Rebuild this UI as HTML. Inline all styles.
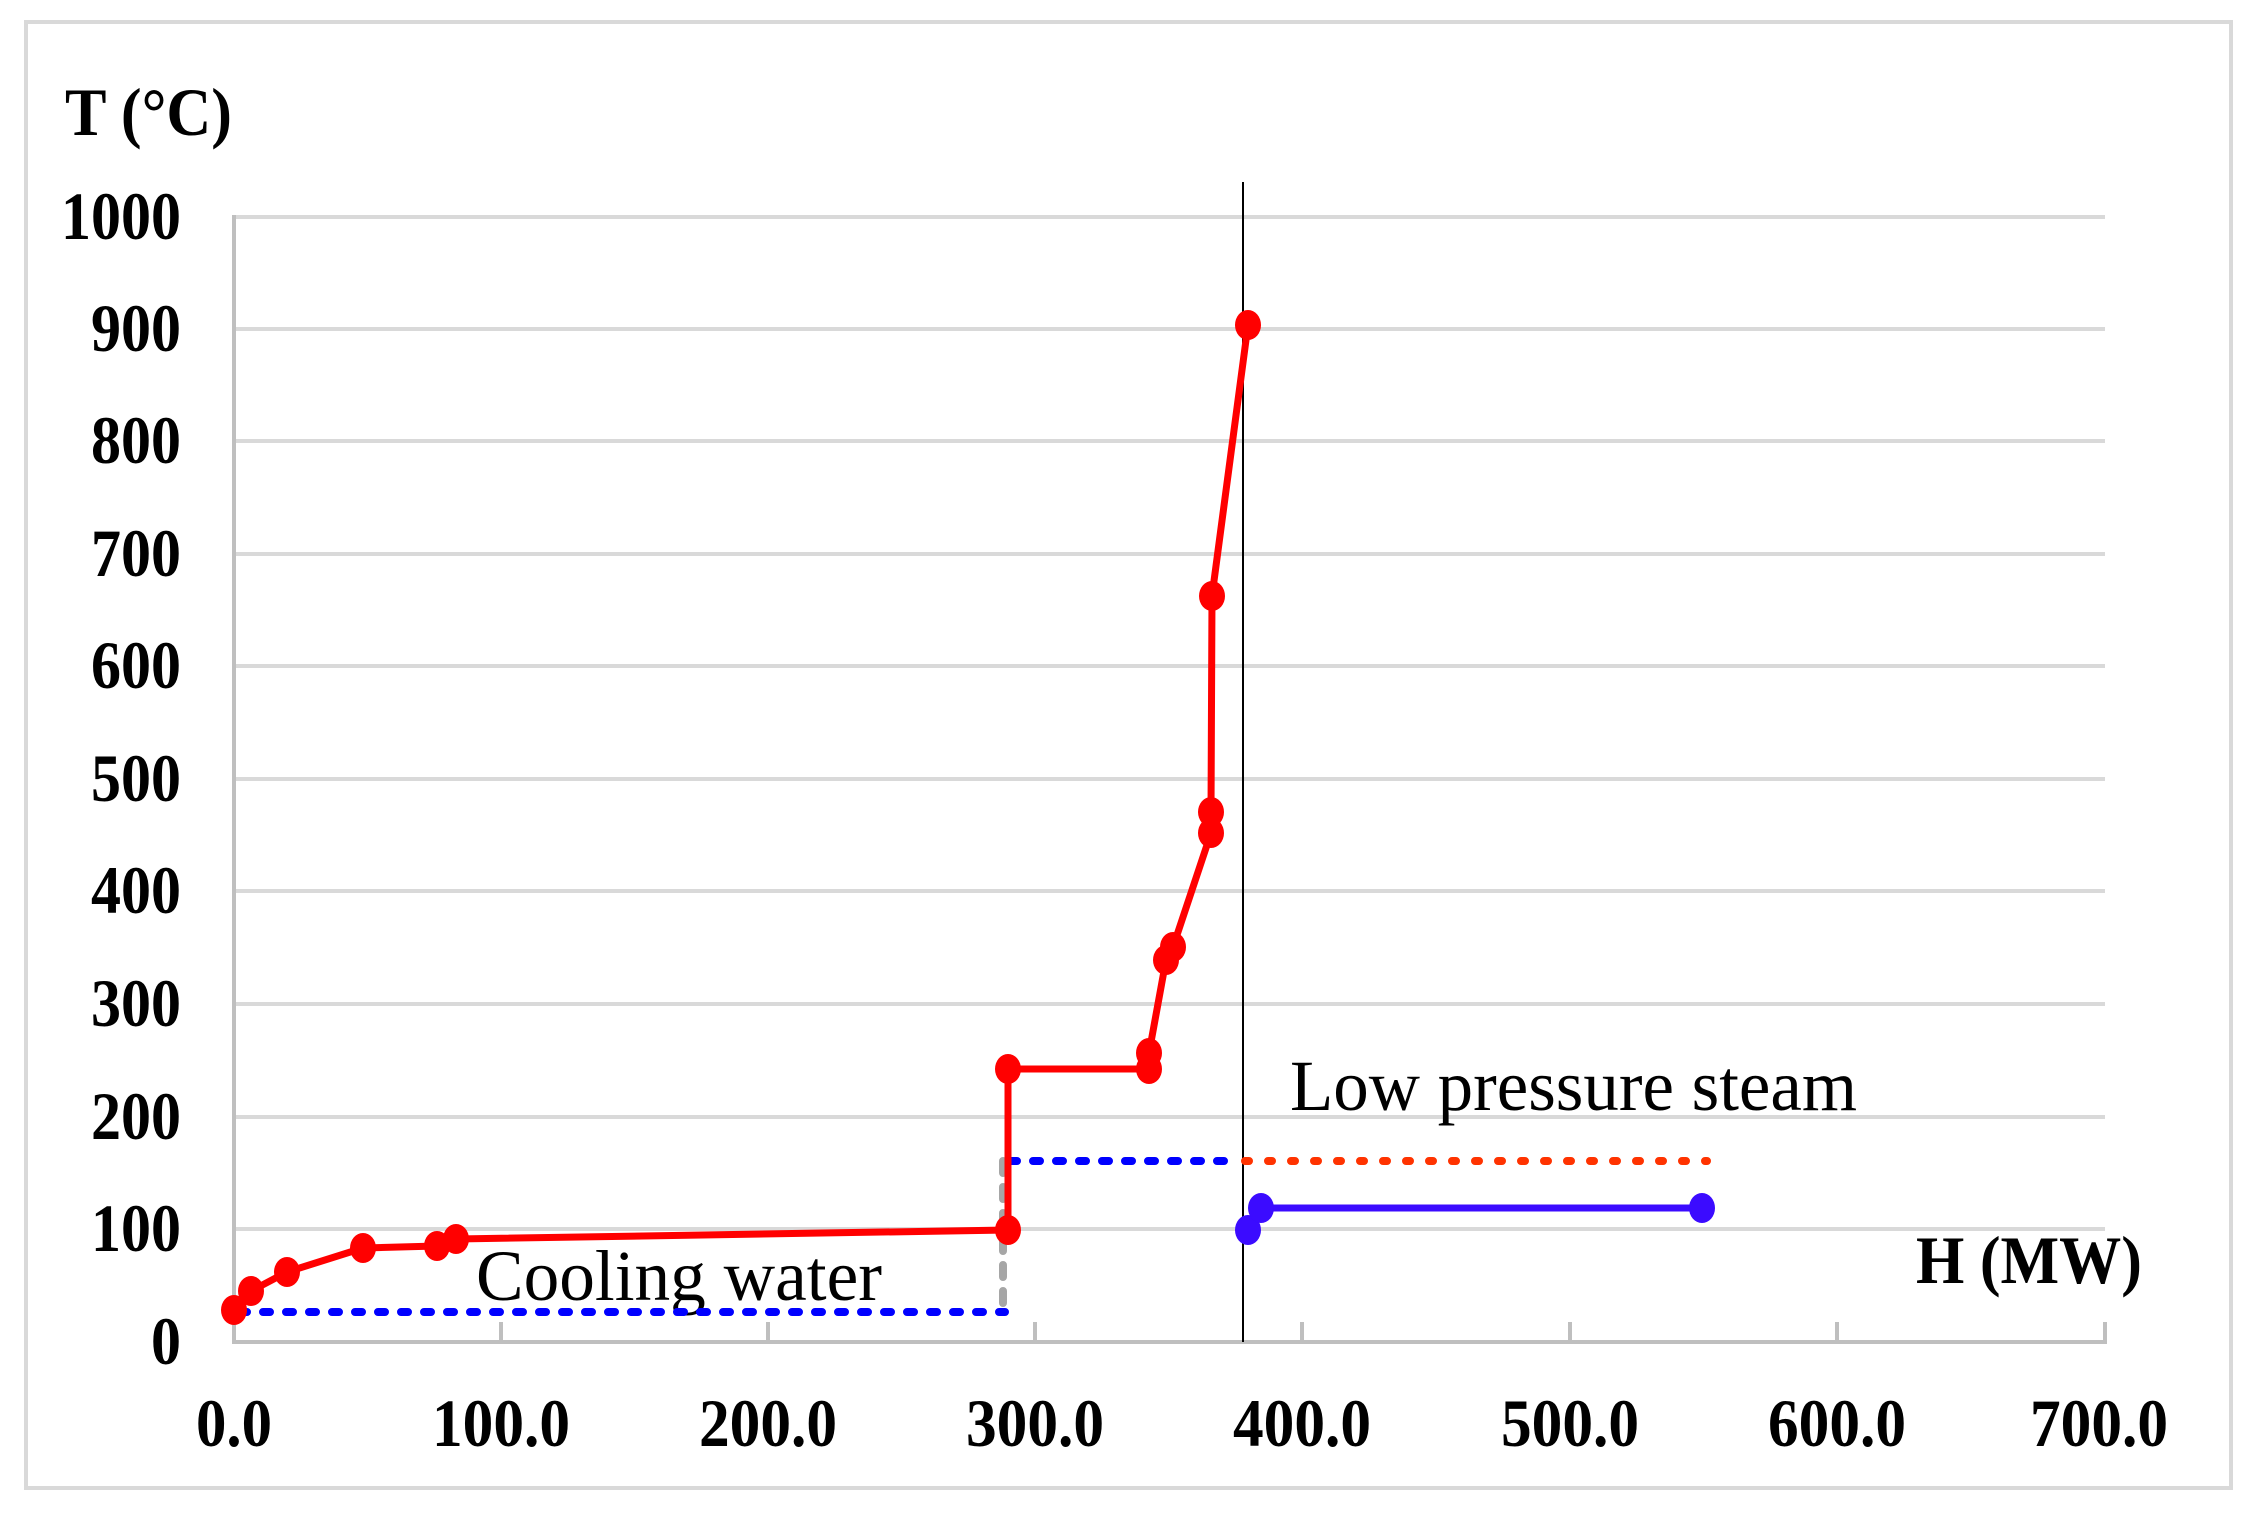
<!DOCTYPE html>
<html><head><meta charset="utf-8"><style>
html,body{margin:0;padding:0;background:#fff;}
svg{display:block;}
text{font-family:"Liberation Serif",serif;fill:#000;}
</style></head><body>
<svg width="2250" height="1514" viewBox="0 0 2250 1514" xmlns="http://www.w3.org/2000/svg">
<rect x="0" y="0" width="2250" height="1514" fill="#fff"/>
<rect x="26" y="22" width="2205" height="1466" fill="none" stroke="#d9d9d9" stroke-width="4"/>
<g stroke="#d9d9d9" stroke-width="4">
<line x1="234" y1="217" x2="2105" y2="217"/>
<line x1="234" y1="329" x2="2105" y2="329"/>
<line x1="234" y1="441" x2="2105" y2="441"/>
<line x1="234" y1="554" x2="2105" y2="554"/>
<line x1="234" y1="666" x2="2105" y2="666"/>
<line x1="234" y1="779" x2="2105" y2="779"/>
<line x1="234" y1="891" x2="2105" y2="891"/>
<line x1="234" y1="1004" x2="2105" y2="1004"/>
<line x1="234" y1="1117" x2="2105" y2="1117"/>
<line x1="234" y1="1229" x2="2105" y2="1229"/>
</g>
<g stroke="#bfbfbf" stroke-width="4">
<line x1="234" y1="215" x2="234" y2="1344"/>
<line x1="232" y1="1342" x2="2107" y2="1342"/>
<line x1="501" y1="1322" x2="501" y2="1342"/>
<line x1="768" y1="1322" x2="768" y2="1342"/>
<line x1="1035" y1="1322" x2="1035" y2="1342"/>
<line x1="1302" y1="1322" x2="1302" y2="1342"/>
<line x1="1570" y1="1322" x2="1570" y2="1342"/>
<line x1="1837" y1="1322" x2="1837" y2="1342"/>
<line x1="2105" y1="1322" x2="2105" y2="1342"/>
</g>
<g font-size="68" font-weight="bold" text-anchor="end" lengthAdjust="spacingAndGlyphs">
<text x="181" y="239" textLength="120" lengthAdjust="spacingAndGlyphs">1000</text>
<text x="181" y="351" textLength="90" lengthAdjust="spacingAndGlyphs">900</text>
<text x="181" y="463" textLength="90" lengthAdjust="spacingAndGlyphs">800</text>
<text x="181" y="576" textLength="90" lengthAdjust="spacingAndGlyphs">700</text>
<text x="181" y="688" textLength="90" lengthAdjust="spacingAndGlyphs">600</text>
<text x="181" y="801" textLength="90" lengthAdjust="spacingAndGlyphs">500</text>
<text x="181" y="913" textLength="90" lengthAdjust="spacingAndGlyphs">400</text>
<text x="181" y="1026" textLength="90" lengthAdjust="spacingAndGlyphs">300</text>
<text x="181" y="1139" textLength="90" lengthAdjust="spacingAndGlyphs">200</text>
<text x="181" y="1251" textLength="90" lengthAdjust="spacingAndGlyphs">100</text>
<text x="181" y="1364" textLength="30" lengthAdjust="spacingAndGlyphs">0</text>
</g>
<g font-size="68" font-weight="bold" text-anchor="middle">
<text x="234" y="1446" textLength="76" lengthAdjust="spacingAndGlyphs">0.0</text>
<text x="501" y="1446" textLength="138" lengthAdjust="spacingAndGlyphs">100.0</text>
<text x="768" y="1446" textLength="138" lengthAdjust="spacingAndGlyphs">200.0</text>
<text x="1035" y="1446" textLength="138" lengthAdjust="spacingAndGlyphs">300.0</text>
<text x="1302" y="1446" textLength="138" lengthAdjust="spacingAndGlyphs">400.0</text>
<text x="1570" y="1446" textLength="138" lengthAdjust="spacingAndGlyphs">500.0</text>
<text x="1837" y="1446" textLength="138" lengthAdjust="spacingAndGlyphs">600.0</text>
<text x="2099" y="1446" textLength="138" lengthAdjust="spacingAndGlyphs">700.0</text>
</g>
<text x="65" y="135" font-size="68" font-weight="bold" textLength="167" lengthAdjust="spacingAndGlyphs">T (°C)</text>
<text x="1916" y="1283" font-size="68" font-weight="bold" textLength="226" lengthAdjust="spacingAndGlyphs">H (MW)</text>
<text x="476" y="1300" font-size="72" textLength="406" lengthAdjust="spacingAndGlyphs">Cooling water</text>
<text x="1290" y="1110" font-size="72" textLength="567" lengthAdjust="spacingAndGlyphs">Low pressure steam</text>
<line x1="1243" y1="182" x2="1243" y2="1342" stroke="#000" stroke-width="2"/>
<g fill="none" stroke-linecap="round" stroke-width="8">
<line x1="1003" y1="1161" x2="1003" y2="1316" stroke="#a6a6a6" stroke-dasharray="12,14"/>
<line x1="240" y1="1312" x2="1005" y2="1312" stroke="#0000ff" stroke-dasharray="7,16"/>
<line x1="1010" y1="1161" x2="1240" y2="1161" stroke="#0000ff" stroke-dasharray="7,16"/>
<line x1="1245" y1="1161" x2="1707" y2="1161" stroke="#ff3300" stroke-dasharray="4,19"/>
</g>
<polyline fill="none" stroke="#ff0000" stroke-width="7" stroke-linejoin="round" points="234,1310 251,1291 287,1272 363,1248 437,1246 456,1239 1008,1230 1008,1069 1149,1069 1149,1053 1166,960 1173,947 1211,833 1211,812 1212,596 1248,325"/>
<g fill="#ff0000">
<ellipse cx="234" cy="1310" rx="13" ry="15"/><ellipse cx="251" cy="1291" rx="13" ry="15"/><ellipse cx="287" cy="1272" rx="13" ry="15"/>
<ellipse cx="363" cy="1248" rx="13" ry="15"/><ellipse cx="437" cy="1246" rx="13" ry="15"/><ellipse cx="456" cy="1239" rx="13" ry="15"/>
<ellipse cx="1008" cy="1230" rx="13" ry="15"/><ellipse cx="1008" cy="1069" rx="13" ry="15"/><ellipse cx="1149" cy="1069" rx="13" ry="15"/>
<ellipse cx="1149" cy="1053" rx="13" ry="15"/><ellipse cx="1166" cy="960" rx="13" ry="15"/><ellipse cx="1173" cy="947" rx="13" ry="15"/>
<ellipse cx="1211" cy="833" rx="13" ry="15"/><ellipse cx="1211" cy="812" rx="13" ry="15"/><ellipse cx="1212" cy="596" rx="13" ry="15"/>
<ellipse cx="1248" cy="325" rx="13" ry="15"/>
</g>
<polyline fill="none" stroke="#3b0bff" stroke-width="7" points="1248,1230 1261,1208 1702,1208"/>
<g fill="#3b0bff">
<ellipse cx="1248" cy="1230" rx="13" ry="15"/><ellipse cx="1261" cy="1208" rx="13" ry="15"/><ellipse cx="1702" cy="1208" rx="13" ry="15"/>
</g>
</svg>
</body></html>
